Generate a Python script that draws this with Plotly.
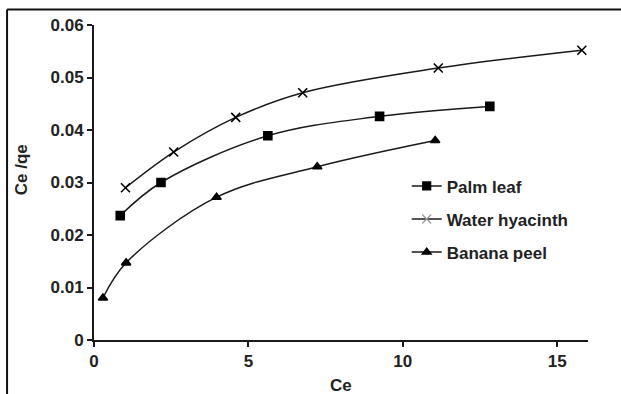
import plotly.graph_objects as go

palm_x = [0.85, 2.17, 5.63, 9.25, 12.82]
palm_y = [0.0237, 0.0300, 0.0389, 0.0426, 0.0445]

hyac_x = [1.02, 2.58, 4.59, 6.76, 11.15, 15.8]
hyac_y = [0.0290, 0.0358, 0.0424, 0.0471, 0.0518, 0.0552]

ban_x = [0.29, 1.04, 3.97, 7.23, 11.05]
ban_y = [0.0080, 0.0147, 0.0272, 0.0330, 0.0380]

names = ["Palm leaf", "Water hyacinth", "Banana peel"]
symbols = ["square", "x-thin", "triangle-up"]
sizes = [8, 9, 8]
legend_marker_colors = ["#000000", "#999999", "#000000"]

FONT = "Liberation Sans, Arial, sans-serif"
LINE = "#1a1a1a"
FS = 17

fig = go.Figure()
for i, (xs, ys) in enumerate([(palm_x, palm_y), (hyac_x, hyac_y), (ban_x, ban_y)]):
    mk = dict(symbol=symbols[i], size=sizes[i], color="#000000",
              line=dict(width=1.6, color="#000000"))
    fig.add_trace(go.Scatter(
        x=xs, y=ys, mode="lines+markers", line=dict(shape="spline", color=LINE, width=1.5),
        marker=mk, showlegend=False, cliponaxis=False))
for i in range(3):
    mk = dict(symbol=symbols[i], size=sizes[i], color=legend_marker_colors[i],
              line=dict(width=1.2, color=legend_marker_colors[i]))
    fig.add_trace(go.Scatter(
        x=[None], y=[None], mode="lines+markers", name=names[i],
        line=dict(color=LINE, width=1.5), marker=mk, legendgroup=f"g{i}"))

axis_common = dict(showline=True, linecolor="#1a1a1a", linewidth=1.8, ticks="outside",
                   ticklen=5, tickwidth=1.5, tickcolor="#1a1a1a", showgrid=False, zeroline=False,
                   tickfont=dict(family=FONT, size=FS, color="#222222", weight="bold"))

fig.update_layout(
    width=621, height=394,
    margin=dict(l=94, r=33, t=25, b=54),
    paper_bgcolor="white", plot_bgcolor="white",
    font=dict(family=FONT, size=FS, color="#222222", weight="bold"),
    xaxis=dict(range=[0, 16], tickvals=[0, 5, 10, 15], ticktext=["0", "5", "10", "15"], **axis_common),
    yaxis=dict(range=[0, 0.06], tickvals=[0, 0.01, 0.02, 0.03, 0.04, 0.05, 0.06],
               ticktext=["0", "0.01", "0.02", "0.03", "0.04", "0.05", "0.06"], **axis_common),
    legend=dict(x=0.633, y=0.545, xanchor="left", yanchor="top", tracegroupgap=8,
                font=dict(family=FONT, size=FS, color="#222222", weight="bold"),
                bgcolor="rgba(0,0,0,0)"),
    showlegend=True,
)

fig.add_annotation(text="<b>Ce /qe</b>", xref="paper", yref="paper", x=-0.145, y=0.54,
                   textangle=-90, showarrow=False, xanchor="center", yanchor="middle",
                   font=dict(family=FONT, size=FS, color="#222222"))
fig.add_annotation(text="<b>Ce</b>", xref="paper", yref="paper", x=0.5, y=-0.143,
                   showarrow=False, xanchor="center", yanchor="middle",
                   font=dict(family=FONT, size=FS, color="#222222"))

# outer frame (top and left edges)
fig.add_shape(type="line", xref="paper", yref="paper", x0=-0.176, x1=1.08, y0=1.0492, y1=1.0492,
              line=dict(color="#111111", width=2))
fig.add_shape(type="line", xref="paper", yref="paper", x0=-0.176, x1=-0.176, y0=1.0492, y1=-0.2,
              line=dict(color="#111111", width=2))

fig.write_html("out.html")
